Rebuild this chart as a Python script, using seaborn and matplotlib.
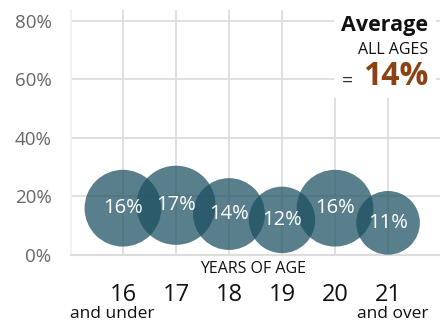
import matplotlib
matplotlib.use("Agg")
import matplotlib.pyplot as plt
import seaborn as sns
import pandas as pd
from matplotlib.patches import Rectangle

ages = ["16", "17", "18", "19", "20", "21"]
age_notes = ["and under", "", "", "", "", "and over"]
rates = [16, 17, 14, 12, 16, 11]
avg_rate = 14
y_ticks = [0, 20, 40, 60, 80]

sns.set_theme(style="white")
plt.rcParams["font.family"] = ["Open Sans", "DejaVu Sans"]

df = pd.DataFrame({"pos": range(len(ages)), "rate": rates})

fig = plt.figure(figsize=(4.4, 3.24), dpi=100)
ax = fig.add_axes([71 / 440, 69 / 324, 369 / 440, 245 / 324])

sns.scatterplot(data=df, x="pos", y="rate", size="rate",
                sizes=(191 * min(rates), 191 * max(rates)),
                size_norm=(min(rates), max(rates)),
                color="#1c5061", alpha=0.73, linewidth=0, legend=False,
                ax=ax, zorder=3)

for i, r in enumerate(rates):
    ax.text(i, r, f"{r}%", ha="center", va="center", color="white",
            fontsize=14.5, zorder=4)

ax.set_xlim(-0.98, 5.98)
ax.set_ylim(0, 83.76)
ax.set_yticks(y_ticks)
ax.set_yticklabels([f"{v}%" for v in y_ticks], color="#666666", fontsize=13.5)
ax.set_xticks(range(len(ages)))
ax.set_xticklabels(ages, fontsize=17, color="#111111")
ax.tick_params(axis="y", length=0, pad=14)
ax.tick_params(axis="x", length=0, pad=20)
ax.set_xlabel("")
ax.set_ylabel("")

ax.grid(True, color="#dddddd", linewidth=1.3, zorder=0)
ax.set_axisbelow(True)
for s in ["top", "right"]:
    ax.spines[s].set_visible(False)
ax.spines["left"].set_color("#f0f0f0")
ax.spines["left"].set_linewidth(1.2)
ax.spines["bottom"].set_color("#dddddd")
ax.spines["bottom"].set_linewidth(1.6)

# notes under age labels
for i, note in enumerate(age_notes):
    if note:
        xpix = 112.5 if i == 0 else 392.5
        fig.text(xpix / 440, 1 - 314 / 324, note, ha="center", va="center",
                 fontsize=12.5, color="#111111")

fig.text(253 / 440, 1 - 269 / 324, "YEARS OF AGE", ha="center", va="center",
         fontsize=11.5, color="#111111")

# Average box
ax.add_patch(Rectangle((0.713, 0.641), 0.276, 0.4, transform=ax.transAxes,
                       facecolor="white", edgecolor="none", zorder=2,
                       clip_on=False))
fig.text(428 / 440, 1 - 26 / 324, "Average", ha="right", va="center",
         fontsize=15.5, fontweight="bold", color="#111111", zorder=5)
fig.text(428 / 440, 1 - 50 / 324, "ALL AGES", ha="right", va="center",
         fontsize=11.5, color="#111111", zorder=5)
fig.text(428 / 440, 1 - 77 / 324, f"{avg_rate}%", ha="right", va="center",
         fontsize=23, fontweight="bold", color="#8a4212", zorder=5)
fig.text(347 / 440, 1 - 81 / 324, "=", ha="center", va="center",
         fontsize=14, color="#333333", zorder=5)

fig.savefig("out.png", dpi=100, facecolor="white")
